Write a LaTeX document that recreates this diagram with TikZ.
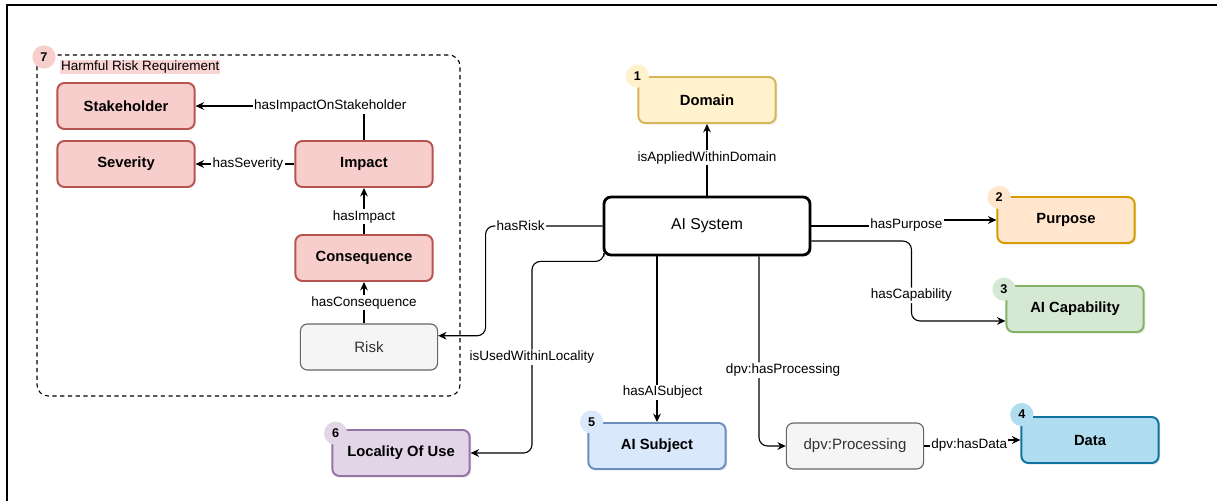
\documentclass[tikz,border=0pt]{standalone}
\usepackage{fontspec}
\setmainfont{Liberation Sans}
\usetikzlibrary{arrows.meta,shadows}
\definecolor{redfill}{HTML}{F8CECC}
\definecolor{redline}{HTML}{B85450}
\definecolor{greyfill}{HTML}{F5F5F5}
\definecolor{greyline}{HTML}{666666}
\definecolor{greytext}{HTML}{333333}
\definecolor{yellowfill}{HTML}{FFF2CC}
\definecolor{yellowline}{HTML}{D6B656}
\definecolor{orangefill}{HTML}{FFE6CC}
\definecolor{orangeline}{HTML}{D79B00}
\definecolor{greenfill}{HTML}{D5E8D4}
\definecolor{greenline}{HTML}{82B366}
\definecolor{datafill}{HTML}{B1DDF0}
\definecolor{dataline}{HTML}{10739E}
\definecolor{bluefill}{HTML}{DAE8FC}
\definecolor{blueline}{HTML}{6C8EBF}
\definecolor{purplefill}{HTML}{E1D5E7}
\definecolor{purpleline}{HTML}{9673A6}
\tikzset{
    conceptbox/.style={rounded corners=5pt, minimum width=3.43cm, minimum height=1.15cm, line width=1.4pt, font=\fontsize{10.5}{12}\selectfont\bfseries},
    softshadow/.style={drop shadow={opacity=0.18, shadow xshift=1.2pt, shadow yshift=-1.2pt}},
    redbox/.style={conceptbox, fill=redfill, draw=redline},
    yellowbox/.style={conceptbox, softshadow, fill=yellowfill, draw=yellowline},
    orangebox/.style={conceptbox, softshadow, fill=orangefill, draw=orangeline},
    greenbox/.style={conceptbox, softshadow, fill=greenfill, draw=greenline},
    databox/.style={conceptbox, softshadow, fill=datafill, draw=dataline},
    bluebox/.style={conceptbox, softshadow, fill=bluefill, draw=blueline},
    purplebox/.style={conceptbox, softshadow, fill=purplefill, draw=purpleline},
    greybox/.style={conceptbox, fill=greyfill, draw=greyline, line width=0.8pt, text=greytext, font=\fontsize{10.7}{12}\selectfont},
    systembox/.style={conceptbox, softshadow, fill=white, draw=black, line width=2pt, minimum width=5.15cm, minimum height=1.45cm, font=\fontsize{11.2}{13}\selectfont},
    badge/.style={circle, fill=#1, inner sep=0pt, minimum size=0.58cm, font=\fontsize{9}{10}\selectfont\bfseries},
    arrowline/.style={line width=0.8pt, -{Stealth[length=6pt,width=5.5pt,inset=2pt]}},
    edgelabel/.style={fill=white, inner sep=1pt, font=\fontsize{9.6}{11}\selectfont}
}
\begin{document}
\begin{tikzpicture}[x=0.025cm, y=-0.025cm]
    \useasboundingbox[fill=white] (0,0) rectangle (1226,501);
    \draw[line width=1.2pt] (7,501) -- (7,5) -- (1217,5);

    % harmful risk requirement group
    \draw[dashed, dash pattern=on 3pt off 2.5pt, line width=0.8pt, rounded corners=8pt] (37,55) rectangle (460,396);
    \node[edgelabel, fill=redfill!85, inner sep=0.6pt, anchor=west] (harmful) at (60,67) {Harmful Risk Requirement};

    \node[redbox] (stakeholder) at (126,106) {Stakeholder};
    \node[redbox] (severity) at (126,164) {Severity};
    \node[redbox] (impact) at (364,164) {Impact};
    \node[redbox] (consequence) at (364,258) {Consequence};
    \node[greybox] (risk) at (369,347) {Risk};

    % central system and its concepts
    \node[systembox] (aisys) at (707,226) {AI System};
    \node[yellowbox] (domain) at (707,100) {Domain};
    \node[orangebox] (purpose) at (1066,220) {Purpose};
    \node[greenbox] (capab) at (1075,309) {AI Capability};
    \node[databox] (data) at (1090,440) {Data};
    \node[greybox] (proc) at (855,446) {dpv:Processing};
    \node[bluebox] (subject) at (657,446) {AI Subject};
    \node[purplebox] (locality) at (401,453) {Locality Of Use};

    % numbered badges
    \node[badge=yellowfill] (n1) at (domain.north west) {1};
    \node[badge=orangefill] (n2) at ([shift={(2pt,-1pt)}]purpose.north west) {2};
    \node[badge=greenfill] (n3) at ([shift={(-1pt,-3pt)}]capab.north west) {3};
    \node[badge=datafill] (n4) at ([shift={(1pt,1pt)}]data.north west) {4};
    \node[badge=bluefill] (n5) at ([shift={(3pt,0pt)}]subject.north west) {5};
    \node[badge=purplefill] (n6) at ([shift={(3pt,-3pt)}]locality.north west) {6};
    \node[badge=redfill] (n7) at (44,57) {7};

    % relations inside the group
    \draw[arrowline] (impact.north) |- node[edgelabel, pos=0.6] {hasImpactOnStakeholder} (stakeholder.east);
    \draw[arrowline] (impact.west) -- node[edgelabel, pos=0.47] {hasSeverity} (severity.east);
    \draw[arrowline] (consequence.north) -- node[edgelabel, pos=0.38] {hasImpact} (impact.south);
    \draw[arrowline] (risk.north -| consequence.south) -- node[edgelabel] {hasConsequence} (consequence.south);

    % relations of the system
    \draw[arrowline, rounded corners=6pt] (aisys.west) -- node[edgelabel, pos=0.7] {hasRisk} ++(-117,0) |- ([yshift=8pt]risk.east);
    \draw[arrowline, rounded corners=6pt] ([xshift=1pt]aisys.south west) -- ++(0,5) -- ++(-72,0) |- node[edgelabel, pos=0.25] {isUsedWithinLocality} (locality.east);
    \draw[arrowline] (aisys.south -| subject.north) -- node[edgelabel, pos=0.82, xshift=4pt] {hasAISubject} (subject.north);
    \draw[arrowline, rounded corners=6pt] ([xshift=1.3cm]aisys.south) |- node[edgelabel, pos=0.3, xshift=0.6cm] {dpv:hasProcessing} (proc.west);
    \draw[arrowline] (proc.east) -- ++(45,0) |- node[edgelabel, pos=0.1] {dpv:hasData} (data.west);
    \draw[arrowline] (aisys.north) -- node[edgelabel, pos=0.53] {isAppliedWithinDomain} (domain.south);
    \draw[arrowline] (aisys.east) -- ++(95,0) |- node[edgelabel, pos=0.1] {hasPurpose} (purpose.west);
    \draw[arrowline, rounded corners=6pt] ([yshift=-10.7pt]aisys.east) -- ++(100,0) |- node[edgelabel, pos=0.34] {hasCapability} ([yshift=-8.5pt]capab.west);
\end{tikzpicture}
\end{document}
